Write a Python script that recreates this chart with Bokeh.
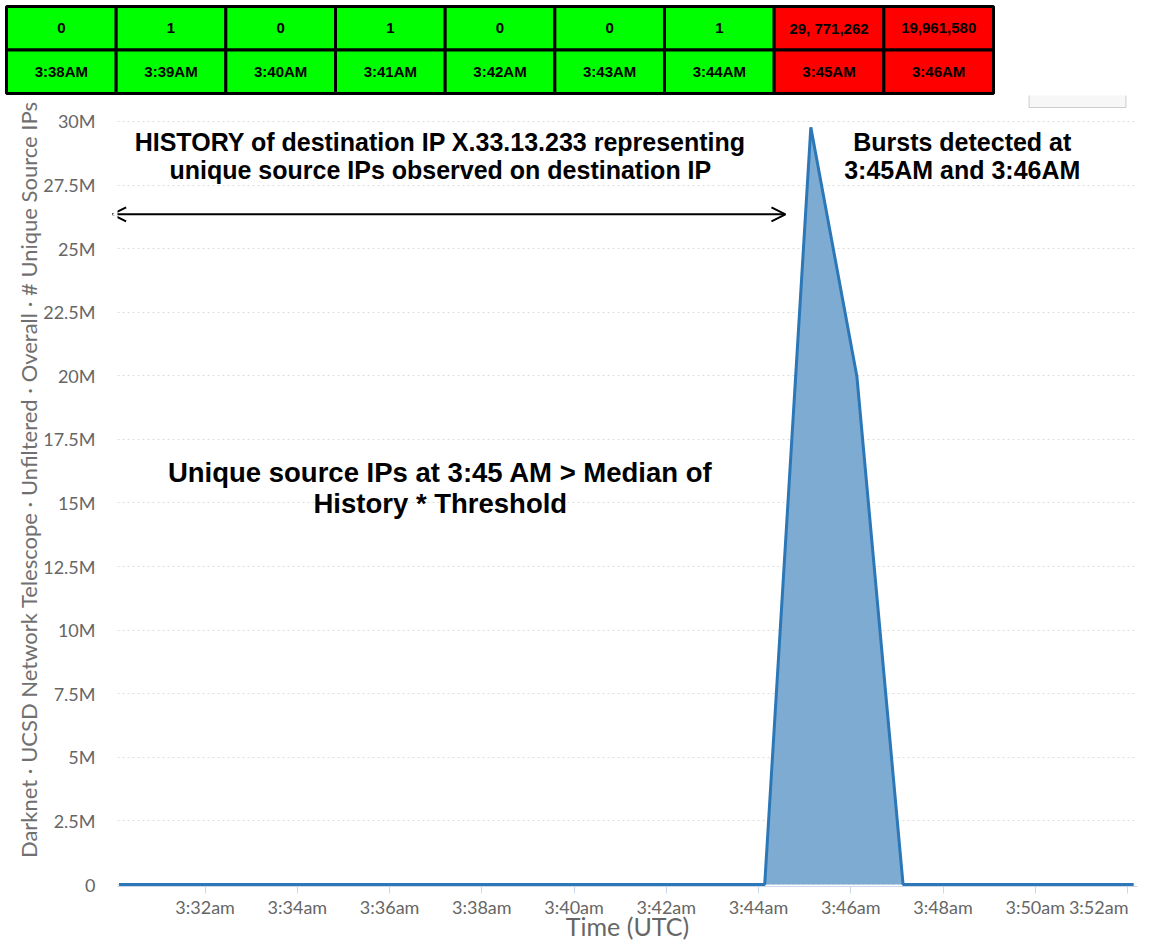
import datetime as dt
from bokeh.plotting import figure
from bokeh.layouts import column
from bokeh.models import (Range1d, FixedTicker, Label, Arrow, OpenHead,
                          ColumnDataSource)
from bokeh.core.properties import value
from bokeh.embed import file_html
from bokeh.resources import INLINE

# ---------------- data ----------------
table_times = ["3:38AM", "3:39AM", "3:40AM", "3:41AM", "3:42AM",
               "3:43AM", "3:44AM", "3:45AM", "3:46AM"]
table_counts = ["0", "1", "0", "1", "0", "0", "1", "29, 771,262", "19,961,580"]
table_burst = [False, False, False, False, False, False, False, True, True]

series_minutes = ["3:30", "3:31", "3:32", "3:33", "3:34", "3:35", "3:36", "3:37",
                  "3:38", "3:39", "3:40", "3:41", "3:42", "3:43", "3:44", "3:45",
                  "3:46", "3:47", "3:48", "3:49", "3:50", "3:51", "3:52"]
series_values = [0, 0, 0, 0, 0, 0, 0, 0,
                 0, 1, 0, 1, 0, 0, 1, 29771262,
                 19961580, 0, 0, 0, 0, 0, 0]

x_tick_minutes = ["3:32", "3:34", "3:36", "3:38", "3:40", "3:42",
                  "3:44", "3:46", "3:48", "3:50", "3:52"]
x_tick_labels = ["3:32am", "3:34am", "3:36am", "3:38am", "3:40am", "3:42am",
                 "3:44am", "3:46am", "3:48am", "3:50am", "3:52am"]
y_ticks = [0, 2500000, 5000000, 7500000, 10000000, 12500000, 15000000,
           17500000, 20000000, 22500000, 25000000, 27500000, 30000000]
y_tick_labels = ["0", "2.5M", "5M", "7.5M", "10M", "12.5M", "15M",
                 "17.5M", "20M", "22.5M", "25M", "27.5M", "30M"]

y_title = "Darknet \u00b7 UCSD Network Telescope \u00b7 Unfiltered \u00b7 Overall \u00b7 # Unique Source IPs"
x_title = "Time (UTC)"

# ---------------- helpers ----------------
EPOCH = dt.datetime(1970, 1, 1)
DAY = dt.datetime(2020, 1, 1)


def t_ms(hm, sec=0):
    h, m = hm.split(":")
    d = DAY.replace(hour=int(h), minute=int(m), second=int(sec))
    return (d - EPOCH).total_seconds() * 1000.0


SAMPLE_OFFSET_S = 8
xs = [t_ms(m, SAMPLE_OFFSET_S) for m in series_minutes]

W = 1151
TABLE_H = 95
CHART_H = 943 - TABLE_H
NBSP = "\u00a0"

# ---------------- table figure ----------------
GREEN = "#00ff00"
RED = "#ff0000"
n = len(table_times)
tsrc = ColumnDataSource(dict(
    x=[i + 0.5 for i in range(n)] * 2,
    y=[1.5] * n + [0.5] * n,
    color=[RED if b else GREEN for b in table_burst] * 2,
    label=table_counts + table_times,
))

# one cell = 109.67 px wide, 43.5 px high; table starts at (6, 6)
tf = figure(width=W, height=TABLE_H,
            x_range=Range1d(-6 / 109.67, (W - 6) / 109.67),
            y_range=Range1d(-(TABLE_H - 93) / 43.5, 2 + 6 / 43.5),
            output_backend="svg", toolbar_location=None,
            min_border_left=0, min_border_right=0,
            min_border_top=0, min_border_bottom=0, frame_align=False)
tf.axis.visible = False
tf.grid.visible = False
tf.outline_line_color = None
tf.rect(x="x", y="y", width=1, height=1, fill_color="color",
        line_color="black", line_width=3, source=tsrc)
tf.text(x="x", y="y", text="label", text_align="center", text_baseline="middle",
        text_font=value("Liberation Sans"), text_font_style="bold",
        text_font_size="15px", text_color="black", source=tsrc)

# ---------------- chart figure ----------------
# frame reaches the top of this figure; the 30M gridline sits 26 px below it
p = figure(width=W, height=CHART_H, x_axis_type="datetime",
           x_range=Range1d(t_ms("3:30", 6), t_ms("3:52", 13)),
           y_range=Range1d(-78600, 31022000),
           output_backend="svg", toolbar_location=None,
           min_border_left=117, min_border_right=14,
           min_border_top=0, min_border_bottom=57, frame_align=False)
p.outline_line_color = None
p.background_fill_color = "white"

src = ColumnDataSource(dict(x=xs, y=series_values, y0=[0] * len(xs)))
p.varea(x="x", y1="y0", y2="y", fill_color="#7eabd2", source=src)
p.line(x="x", y="y", line_color="#2b77b7", line_width=3, source=src)

# partially hidden "Reset zoom" button of the original screenshot
p.quad(left=[t_ms("3:49", 52)], right=[t_ms("3:51", 58)],
       bottom=[30550000], top=[31600000],
       fill_color="#f7f7f7", line_color="#cccccc", line_width=1)

# grid
p.xgrid.grid_line_color = None
p.ygrid.grid_line_color = "#dcdcdc"
p.ygrid.grid_line_dash = "2 3"
p.ygrid.ticker = FixedTicker(ticks=y_ticks)

# y axis
p.yaxis.ticker = FixedTicker(ticks=y_ticks)
p.yaxis.major_label_overrides = {int(v): s for v, s in zip(y_ticks, y_tick_labels)}
p.yaxis.axis_line_color = None
p.yaxis.major_tick_line_color = None
p.yaxis.minor_tick_line_color = None
p.yaxis.major_label_text_font = "Lato"
p.yaxis.major_label_text_font_size = "18px"
p.yaxis.major_label_text_color = "#666666"
p.yaxis.major_label_standoff = 16
# a little leading padding moves the rotated title up, as in the original
p.yaxis.axis_label = NBSP * 4 + y_title
p.yaxis.axis_label_text_font = "Lato"
p.yaxis.axis_label_text_font_size = "22px"
p.yaxis.axis_label_text_font_style = "normal"
p.yaxis.axis_label_text_color = "#707070"
p.yaxis.axis_label_standoff = -2

# x axis
xt = [int(t_ms(m)) for m in x_tick_minutes]
p.xaxis.ticker = FixedTicker(ticks=xt)
overrides = {v: s for v, s in zip(xt, x_tick_labels)}
# last label sits against the right edge (shifted left as in the original)
overrides[xt[-1]] = x_tick_labels[-1] + NBSP * 5
p.xaxis.major_label_overrides = overrides
p.xaxis.axis_line_color = "#ccd6eb"
p.xaxis.major_tick_line_color = "#ccd6eb"
p.xaxis.major_tick_in = 0
p.xaxis.major_tick_out = 7
p.xaxis.minor_tick_line_color = None
p.xaxis.major_label_text_font = "Lato"
p.xaxis.major_label_text_font_size = "18px"
p.xaxis.major_label_text_color = "#666666"
p.xaxis.major_label_standoff = 2
p.xaxis.axis_label = x_title
p.xaxis.axis_label_text_font = "Lato"
p.xaxis.axis_label_text_font_size = "25px"
p.xaxis.axis_label_text_font_style = "normal"
p.xaxis.axis_label_text_color = "#666666"
p.xaxis.axis_label_standoff = -10

# ---------------- annotations ----------------
ann_font = "Liberation Sans"


def ann(x, y, text, size):
    p.add_layout(Label(x=x, y=y, text=text, text_align="center",
                       text_baseline="middle", text_font=ann_font,
                       text_font_style="bold", text_font_size=size,
                       text_color="black"))


ann(t_ms("3:37", 6), 29180000, "HISTORY of destination IP X.33.13.233 representing", "25px")
ann(t_ms("3:37", 6), 28080000, "unique source IPs observed on destination IP", "25px")
ann(t_ms("3:48", 25), 29180000, "Bursts detected at", "25px")
ann(t_ms("3:48", 25), 28080000, "3:45AM and 3:46AM", "25px")
ann(t_ms("3:37", 6), 16200000, "Unique source IPs at 3:45 AM > Median of", "27.5px")
ann(t_ms("3:37", 6), 14980000, "History * Threshold", "27.5px")

p.add_layout(Arrow(x_start=t_ms("3:29", 59), y_start=26350000,
                   x_end=t_ms("3:44", 35), y_end=26350000,
                   line_color="black", line_width=2,
                   start=OpenHead(size=14, line_width=2, line_color="black"),
                   end=OpenHead(size=14, line_width=2, line_color="black")))

layout = column(tf, p)
open("out.html", "w").write(file_html(layout, INLINE))
